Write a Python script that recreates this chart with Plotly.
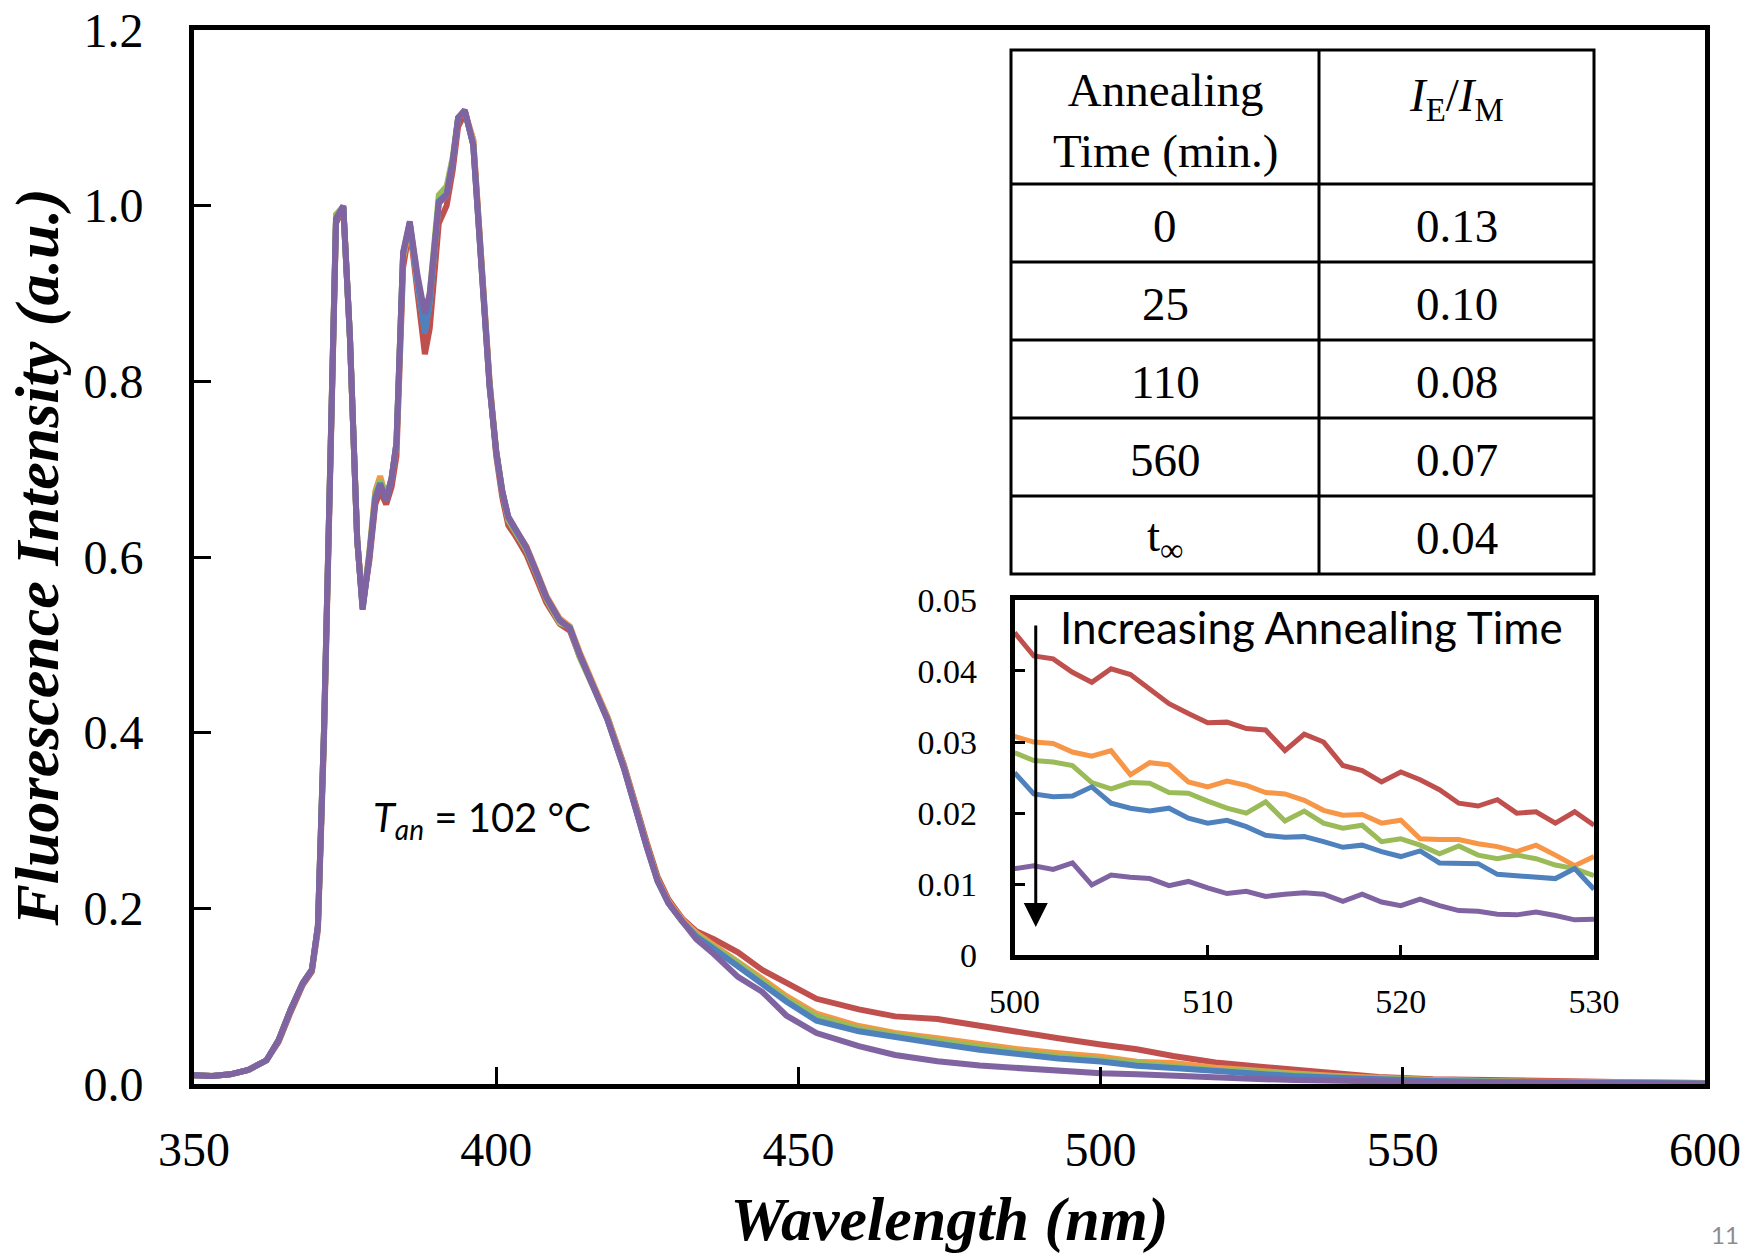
import plotly.graph_objects as go

# ---------------- main spectrum data ----------------
WL = [350, 353, 356, 359, 362, 364, 366, 368, 369.5, 370.5, 371.5, 372.5, 373.5, 374.7, 375.8,
      377.0, 377.9, 379.0, 380.0, 380.8, 381.8, 382.7, 383.5, 384.6, 385.7, 387.0, 388.2, 389.0,
      389.8, 390.5, 391.8, 392.8, 393.7, 394.8, 396.2, 397.8, 398.9, 400.0, 401.0, 402.0, 403.1,
      405.0, 406.7, 408.3, 410.5, 412.2, 413.8, 415.6, 418.4, 421.2, 423.0, 424.9, 426.7, 428.5,
      430.8, 433.1, 436, 440, 444, 448, 453, 460, 466, 473, 480, 486, 493, 500, 506, 512, 519,
      526, 532, 539, 546, 555, 565, 575, 588, 600]

PEAK_COMMON = [0.010, 0.009, 0.011, 0.016, 0.027, 0.050, 0.085, 0.115, 0.130, 0.180, 0.40, 0.72,
               0.985, 1.000, 0.85, 0.62, 0.540, 0.600, 0.665, 0.682, 0.665, 0.690, 0.730, 0.947,
               0.982, 0.92, 0.877, 0.90, 0.96, 1.003, 1.012, 1.05, 1.10, 1.109, 1.069, 0.903,
               0.794, 0.720, 0.675, 0.646, 0.633, 0.611, 0.582, 0.554, 0.528, 0.519, 0.489, 0.46,
               0.415, 0.358, 0.314, 0.270, 0.231, 0.206, 0.185]

PEAK_RED = [0.010, 0.009, 0.011, 0.016, 0.027, 0.048, 0.082, 0.113, 0.128, 0.175, 0.39, 0.71,
            0.98, 0.998, 0.85, 0.62, 0.545, 0.595, 0.66, 0.675, 0.66, 0.680, 0.715, 0.93,
            0.975, 0.90, 0.831, 0.86, 0.93, 0.98, 1.000, 1.04, 1.09, 1.105, 1.075, 0.91,
            0.80, 0.715, 0.668, 0.636, 0.625, 0.603, 0.575, 0.548, 0.524, 0.516, 0.487, 0.46,
            0.418, 0.362, 0.318, 0.275, 0.236, 0.210, 0.188]

PEAK_ORANGE = [0.010, 0.009, 0.011, 0.016, 0.027, 0.050, 0.085, 0.115, 0.130, 0.180, 0.40, 0.72,
               0.985, 0.999, 0.85, 0.62, 0.545, 0.605, 0.675, 0.692, 0.668, 0.690, 0.728, 0.94,
               0.978, 0.91, 0.858, 0.89, 0.955, 1.003, 1.012, 1.05, 1.10, 1.108, 1.075, 0.91,
               0.80, 0.722, 0.676, 0.644, 0.632, 0.612, 0.584, 0.556, 0.530, 0.521, 0.492, 0.463,
               0.418, 0.360, 0.316, 0.272, 0.233, 0.208, 0.187]

PEAK_GREEN = [0.010, 0.009, 0.011, 0.016, 0.027, 0.050, 0.085, 0.115, 0.130, 0.180, 0.40, 0.72,
              0.99, 0.999, 0.85, 0.62, 0.542, 0.603, 0.672, 0.688, 0.667, 0.690, 0.730, 0.945,
              0.98, 0.915, 0.865, 0.90, 0.965, 1.012, 1.022, 1.055, 1.10, 1.108, 1.070, 0.905,
              0.796, 0.720, 0.674, 0.642, 0.630, 0.608, 0.580, 0.552, 0.525, 0.520, 0.486, 0.46,
              0.416, 0.359, 0.315, 0.271, 0.232, 0.206, 0.185]

PEAK_BLUE = [0.010, 0.009, 0.011, 0.016, 0.027, 0.050, 0.085, 0.115, 0.130, 0.180, 0.40, 0.72,
             0.985, 0.999, 0.85, 0.62, 0.541, 0.601, 0.668, 0.684, 0.664, 0.690, 0.730, 0.945,
             0.98, 0.912, 0.855, 0.89, 0.958, 1.005, 1.013, 1.05, 1.10, 1.108, 1.069, 0.904,
             0.795, 0.720, 0.675, 0.645, 0.632, 0.610, 0.582, 0.554, 0.528, 0.519, 0.489, 0.46,
             0.415, 0.358, 0.314, 0.270, 0.231, 0.206, 0.185]

TAIL_RED = [0.174, 0.165, 0.150, 0.130, 0.116, 0.097, 0.085, 0.077, 0.074, 0.066, 0.059, 0.052,
            0.045, 0.0395, 0.0319, 0.0244, 0.020, 0.016, 0.012, 0.008, 0.0055, 0.004, 0.003,
            0.002, 0.001]
TAIL_ORANGE = [0.172, 0.158, 0.140, 0.120, 0.100, 0.080, 0.066, 0.058, 0.052, 0.045, 0.040,
               0.035, 0.031, 0.0254, 0.0239, 0.0186, 0.0146, 0.012, 0.009, 0.0065, 0.0045,
               0.003, 0.002, 0.0015, 0.001]
TAIL_GREEN = [0.170, 0.156, 0.138, 0.117, 0.097, 0.077, 0.063, 0.056, 0.049, 0.042, 0.037,
              0.032, 0.0285, 0.0243, 0.020, 0.016, 0.0141, 0.011, 0.008, 0.006, 0.004, 0.003,
              0.002, 0.0012, 0.0008]
TAIL_BLUE = [0.168, 0.154, 0.135, 0.114, 0.094, 0.072, 0.060, 0.053, 0.046, 0.039, 0.034,
             0.029, 0.0257, 0.0207, 0.0181, 0.0146, 0.0112, 0.009, 0.007, 0.005, 0.0035, 0.0025,
             0.0018, 0.001, 0.0006]
TAIL_PURPLE = [0.165, 0.148, 0.122, 0.105, 0.078, 0.058, 0.043, 0.033, 0.026, 0.021, 0.018,
               0.015, 0.0122, 0.011, 0.009, 0.0075, 0.0057, 0.0045, 0.0035, 0.0025, 0.0015,
               0.001, 0.0008, 0.0005, 0.0003]

# ---------------- inset data (500-530 nm) ----------------
INSET_WL = list(range(500, 531))
INSET_RED = [0.0454, 0.0421, 0.0417, 0.0398, 0.0384, 0.0403, 0.0395, 0.0375, 0.0354, 0.0340,
             0.0327, 0.0328, 0.0319, 0.0317, 0.0288, 0.0311, 0.0300, 0.0267, 0.0260, 0.0244,
             0.0258, 0.0247, 0.0233, 0.0214, 0.0210, 0.0219, 0.0200, 0.0202, 0.0186, 0.0202,
             0.0183]
INSET_ORANGE = [0.0308, 0.0300, 0.0298, 0.0286, 0.0280, 0.0288, 0.0254, 0.0271, 0.0268, 0.0244,
                0.0237, 0.0245, 0.0239, 0.0229, 0.0227, 0.0218, 0.0204, 0.0197, 0.0198, 0.0186,
                0.0190, 0.0164, 0.0163, 0.0163, 0.0157, 0.0153, 0.0146, 0.0155, 0.0141, 0.0126,
                0.0139]
INSET_GREEN = [0.0285, 0.0274, 0.0272, 0.0267, 0.0243, 0.0234, 0.0243, 0.0242, 0.0229, 0.0228,
               0.0217, 0.0207, 0.0200, 0.0216, 0.0189, 0.0203, 0.0186, 0.0179, 0.0183, 0.0160,
               0.0164, 0.0155, 0.0143, 0.0154, 0.0141, 0.0136, 0.0141, 0.0136, 0.0127, 0.0122,
               0.0112]
INSET_BLUE = [0.0257, 0.0227, 0.0223, 0.0224, 0.0237, 0.0214, 0.0207, 0.0203, 0.0207, 0.0193,
              0.0186, 0.0190, 0.0181, 0.0169, 0.0166, 0.0167, 0.0160, 0.0152, 0.0155, 0.0146,
              0.0139, 0.0147, 0.0130, 0.0130, 0.0129, 0.0114, 0.0112, 0.0110, 0.0108, 0.0122,
              0.0093]
INSET_PURPLE = [0.0122, 0.0126, 0.0121, 0.0130, 0.0099, 0.0113, 0.0110, 0.0108, 0.0098, 0.0104,
                0.0095, 0.0087, 0.0090, 0.0083, 0.0086, 0.0088, 0.0086, 0.0076, 0.0086, 0.0075,
                0.0070, 0.0079, 0.0070, 0.0063, 0.0062, 0.0058, 0.0057, 0.0061, 0.0056, 0.0050,
                0.0051]

# ---------------- table data ----------------
TABLE_HEADER = ["Annealing<br>Time (min.)", "<i>I</i><sub>E</sub>/<i>I</i><sub>M</sub>"]
ANNEAL_TIME = ["0", "25", "110", "560", "t<sub>∞</sub>"]
RATIO = ["0.13", "0.10", "0.08", "0.07", "0.04"]

COLORS = ["#C0504D", "#F79646", "#9BBB59", "#4F81BD", "#8064A2"]
MAIN_SERIES = [PEAK_RED + TAIL_RED, PEAK_ORANGE + TAIL_ORANGE, PEAK_GREEN + TAIL_GREEN,
               PEAK_BLUE + TAIL_BLUE, PEAK_COMMON + TAIL_PURPLE]
INSET_SERIES = [INSET_RED, INSET_ORANGE, INSET_GREEN, INSET_BLUE, INSET_PURPLE]

SERIF = "Liberation Serif"
SANS = "Lato"

fig = go.Figure()
for ys, c in zip(MAIN_SERIES, COLORS):
    fig.add_trace(go.Scatter(x=WL, y=ys, mode="lines", line=dict(color=c, width=6),
                             xaxis="x", yaxis="y", showlegend=False, hoverinfo="skip"))
for ys, c in zip(INSET_SERIES, COLORS):
    fig.add_trace(go.Scatter(x=INSET_WL, y=ys, mode="lines", line=dict(color=c, width=5),
                             xaxis="x2", yaxis="y2", showlegend=False, hoverinfo="skip"))

# page layout (the body margin is removed in the page, so figure px == page px)
W, H = 1748, 1260
ML, MT = 194, 30
MR = W - 1705
MB = H - 1084
PW, PH = W - ML - MR, H - MT - MB


def px(x):
    return (x - ML) / PW


def py(y):
    return (MT + PH - y) / PH


fig.update_layout(
    width=W, height=H,
    margin=dict(l=ML, r=MR, t=MT, b=MB, autoexpand=False),
    paper_bgcolor="white", plot_bgcolor="white",
    xaxis=dict(range=[350, 600], dtick=50, tick0=350, ticks="inside", ticklen=17, tickwidth=3,
               tickcolor="black", showline=True, linewidth=5, linecolor="black", mirror=True,
               showgrid=False, zeroline=False, ticklabelstandoff=19, automargin=False,
               tickfont=dict(family=SERIF, size=48, color="black"),
               title=dict(text="<b><i>Wavelength (nm)</i></b>", standoff=24,
                          font=dict(family=SERIF, size=62, color="black"))),
    yaxis=dict(range=[0, 1.2], dtick=0.2, tickformat=".1f", ticks="inside", ticklen=17, tickwidth=3,
               tickcolor="black", showline=True, linewidth=5, linecolor="black", mirror=True,
               showgrid=False, zeroline=False, ticklabelstandoff=36, automargin=False,
               tickfont=dict(family=SERIF, size=48, color="black"),
               title=dict(text="<b><i>Fluorescence Intensity (a.u.)</i></b>", standoff=6,
                          font=dict(family=SERIF, size=62, color="black"))),
    xaxis2=dict(domain=[px(1014.5), px(1594)], anchor="y2", range=[500, 530], dtick=10, tick0=500,
                ticks="inside", ticklen=11, tickwidth=3, tickcolor="black", showline=True,
                linewidth=4.5, linecolor="black", mirror=True, showgrid=False, zeroline=False,
                ticklabelstandoff=12, tickfont=dict(family=SERIF, size=34, color="black")),
    yaxis2=dict(domain=[py(955.4), py(599.8)], anchor="x2", range=[0, 0.05], dtick=0.01,
                ticks="inside", ticklen=11, tickwidth=3, tickcolor="black", showline=True,
                linewidth=4.5, linecolor="black", mirror=True, showgrid=False, zeroline=False,
                ticklabelstandoff=26, tickfont=dict(family=SERIF, size=34, color="black")),
)

# ---------------- table drawn with shapes + text ----------------
T_L, T_R, T_DIV, T_TOP, T_HEAD, T_BOT = 1011, 1594, 1319, 50, 184, 574
n_rows = len(ANNEAL_TIME)
row_h = (T_BOT - T_HEAD) / n_rows
shapes = []
lw = 3
shapes.append(dict(type="rect", xref="paper", yref="paper", x0=px(T_L), x1=px(T_R),
                   y0=py(T_BOT), y1=py(T_TOP), line=dict(color="black", width=lw),
                   fillcolor="white", layer="below"))
shapes.append(dict(type="line", xref="paper", yref="paper", x0=px(T_DIV), x1=px(T_DIV),
                   y0=py(T_BOT), y1=py(T_TOP), line=dict(color="black", width=lw)))
for i in range(n_rows):
    yy = T_HEAD + i * row_h
    shapes.append(dict(type="line", xref="paper", yref="paper", x0=px(T_L), x1=px(T_R),
                       y0=py(yy), y1=py(yy), line=dict(color="black", width=lw)))

TFS = 47
annotations = []
cx_left = (T_L + T_DIV) / 2
cx_right = (T_DIV + T_R) / 2
annotations.append(dict(text=TABLE_HEADER[0], x=px(cx_left), y=py(120), xref="paper", yref="paper",
                        showarrow=False, xanchor="center", yanchor="middle",
                        font=dict(family=SERIF, size=TFS, color="black")))
annotations.append(dict(text=TABLE_HEADER[1], x=px(cx_right), y=py(98), xref="paper", yref="paper",
                        showarrow=False, xanchor="center", yanchor="middle",
                        font=dict(family=SERIF, size=TFS, color="black")))
for i, (a, r) in enumerate(zip(ANNEAL_TIME, RATIO)):
    yc = T_HEAD + (i + 0.5) * row_h + 3
    annotations.append(dict(text=a, x=px(cx_left), y=py(yc), xref="paper", yref="paper",
                            showarrow=False, xanchor="center", yanchor="middle",
                            font=dict(family=SERIF, size=TFS, color="black")))
    annotations.append(dict(text=r, x=px(cx_right), y=py(yc), xref="paper", yref="paper",
                            showarrow=False, xanchor="center", yanchor="middle",
                            font=dict(family=SERIF, size=TFS, color="black")))

# inset label and arrow
annotations.append(dict(text="Increasing Annealing Time", x=px(1058), y=py(627), xref="paper",
                        yref="paper", showarrow=False, xanchor="left", yanchor="middle",
                        font=dict(family=SANS, size=44, color="black")))
annotations.append(dict(text="", x=501.1, y=0.0040, ax=501.1, ay=0.0466, xref="x2", yref="y2",
                        axref="x2", ayref="y2", showarrow=True, arrowhead=2, arrowsize=1.6,
                        arrowwidth=3, arrowcolor="black", standoff=0, startstandoff=0))
# temperature label
annotations.append(dict(text="<i>T</i><sub><i>an</i></sub> = 102 °C", x=397.6, y=0.301, xref="x",
                        yref="y", showarrow=False, xanchor="center", yanchor="middle",
                        font=dict(family=SANS, size=40, color="black")))
# page number
annotations.append(dict(text="11", x=px(1725), y=py(1234), xref="paper", yref="paper",
                        showarrow=False, xanchor="center", yanchor="middle",
                        font=dict(family=SANS, size=24, color="#8c8c8c")))

fig.update_layout(shapes=shapes, annotations=annotations)
fig.write_html("out.html", config={"displayModeBar": False},
               post_script="document.body.style.margin='0px';")
